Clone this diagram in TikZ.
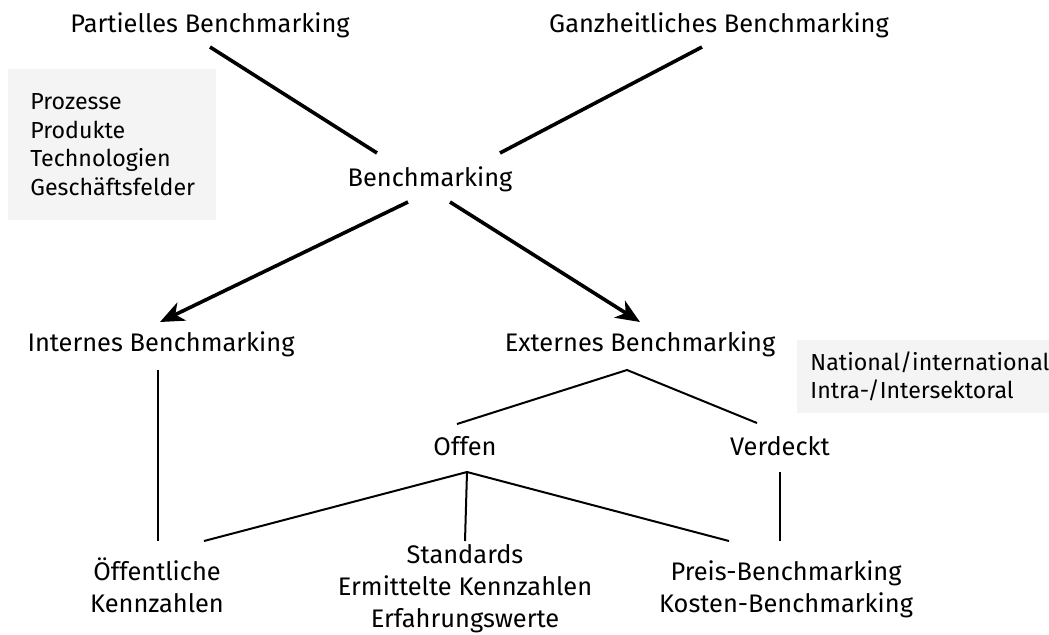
\documentclass[tikz,border=0pt]{standalone}
\usepackage{fontspec}
\setmainfont{Fira Sans}
\usetikzlibrary{arrows.meta, calc}
\definecolor{boxgray}{RGB}{243, 244, 243}

\begin{document}
\begin{tikzpicture}[
    x=0.5pt, y=-0.5pt,
    term/.style={font=\fontsize{12.7}{16}\selectfont, inner sep=0pt, anchor=base, align=center},
    infobox/.style={fill=boxgray, anchor=west, align=left, inner xsep=11pt, font=\fontsize{11.6}{14.3}\selectfont},
    heavyline/.style={line width=1.8pt},
    heavyarrow/.style={line width=1.8pt, -{Stealth[length=12pt, width=10pt, inset=3.5pt]}},
    branch/.style={line width=1pt}
]
\useasboundingbox (0,0) rectangle (1049,634);

\node[term] (partiell) at (210,32) {Partielles Benchmarking};
\node[term] (ganz) at (719,32) {Ganzheitliches Benchmarking};
\node[infobox, text width=82pt, minimum height=75.5pt] (objekte) at (8,144.5) {Prozesse\\Produkte\\Technologien\\Geschäftsfelder};
\node[term] (bench) at (430,186) {Benchmarking};
\node[term] (intern) at (161,351) {Internes Benchmarking};
\node[term] (extern) at (640,351) {Externes Benchmarking};
\node[infobox, inner xsep=6.5pt, text width=122pt, minimum height=36.5pt] (reichweite) at (797,376.5) {National/international\\Intra-/Intersektoral};
\node[term] (offen) at (465,455) {Offen};
\node[term] (verdeckt) at (780,455) {Verdeckt};
\node[term] (oeff) at (157,612) {Öffentliche\\Kennzahlen};
\node[term] (standards) at (465,627) {Standards\\Ermittelte Kennzahlen\\Erfahrungswerte};
\node[term] (preis) at (786,612) {Preis-Benchmarking\\Kosten-Benchmarking};

\draw[heavyline] ($(partiell.base)+(0,15)$) -- ($(bench.base)+(-53,-33)$);
\draw[heavyline] ($(ganz.base)+(-17,15)$) -- ($(bench.base)+(70,-33)$);
\draw[heavyarrow] ($(bench.base)+(-22,16)$) -- ($(intern.base)+(-1,-29)$);
\draw[heavyarrow] ($(bench.base)+(20,16)$) -- ($(extern.base)+(0,-29)$);

\draw[branch] ($(intern.base)+(-3,19)$) -- ($(oeff.base)+(1,-71)$);
\draw[branch] ($(offen.base)+(-8,-31)$) -- ($(extern.base)+(-13,19)$) -- ($(verdeckt.base)+(-23,-32)$);
\draw[branch] ($(oeff.base)+(47,-71)$) -- ($(offen.base)+(2,17)$) -- ($(preis.base)+(-57,-71)$);
\draw[branch] ($(offen.base)+(2,17)$) -- ($(standards.base)+(0,-86)$);
\draw[branch] ($(verdeckt.base)+(0,17)$) -- ($(preis.base)+(-6,-71)$);
\end{tikzpicture}
\end{document}
